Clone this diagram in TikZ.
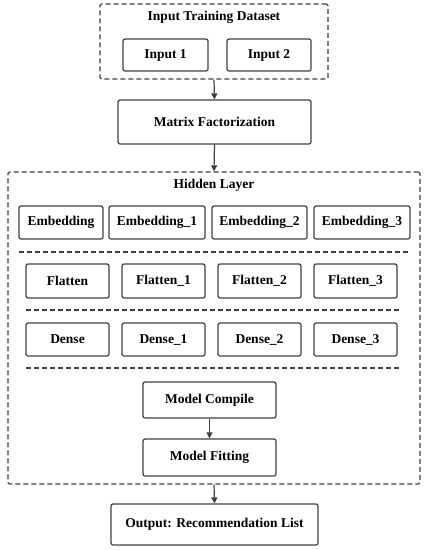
\documentclass[tikz,border=0pt]{standalone}
\usepackage{fontspec}
\setmainfont{Liberation Serif}
\usetikzlibrary{arrows.meta}
\definecolor{lc}{HTML}{404040}
\tikzset{
  box/.style={draw=lc, rounded corners=2pt, line width=1.2pt, font=\bfseries\fontsize{13.5}{16}\selectfont, inner sep=0pt, align=center},
  grp/.style={draw=lc, rounded corners=1.5pt, dash pattern=on 5pt off 3pt, line width=1.2pt, inner sep=0pt},
  sep/.style={draw=lc, dash pattern=on 5pt off 3pt, line width=1.2pt},
  ttl/.style={font=\bfseries\fontsize{13.5}{16}\selectfont, inner sep=0pt},
  arr/.style={draw=lc, line width=1.2pt, -{Triangle[length=6pt,width=6pt]}}
}
\begin{document}
\begin{tikzpicture}[x=1pt,y=-1pt]
\useasboundingbox (0,0) rectangle (429,550);
% input group
\node[grp, minimum width=228pt, minimum height=75pt] (ids) at (214,41.5) {};
\node[ttl] (idst) at (214,17) {Input Training Dataset};
\node[box, minimum width=85pt, minimum height=32pt] (in1) at (165.5,55) {Input 1};
\node[box, minimum width=84pt, minimum height=32pt] (in2) at (269,55) {Input 2};
% matrix factorization
\node[box, minimum width=193pt, minimum height=44pt] (mf) at (214.5,122) {Matrix Factorization};
% hidden layer
\node[grp, minimum width=412pt, minimum height=312pt] (hl) at (214,328) {};
\node[ttl] (hlt) at (214,185) {Hidden Layer};
\node[box, minimum width=84pt, minimum height=33pt] (e0) at (61,222.5) {Embedding};
\node[box, minimum width=96pt, minimum height=33pt] (e1) at (157,222.5) {Embedding\_1};
\node[box, minimum width=95pt, minimum height=33pt] (e2) at (259.5,222.5) {Embedding\_2};
\node[box, minimum width=96pt, minimum height=33pt] (e3) at (362,222.5) {Embedding\_3};
\draw[sep] (19,252) -- (410,252);
\node[box, minimum width=83pt, minimum height=34pt] (f0) at (67.5,281) {Flatten};
\node[box, minimum width=83pt, minimum height=34pt] (f1) at (163.5,281) {Flatten\_1};
\node[box, minimum width=83pt, minimum height=34pt] (f2) at (259.5,281) {Flatten\_2};
\node[box, minimum width=83pt, minimum height=34pt] (f3) at (355.5,281) {Flatten\_3};
\draw[sep] (26,310) -- (400,310);
\node[box, minimum width=83pt, minimum height=33pt] (d0) at (67.5,339.5) {Dense};
\node[box, minimum width=83pt, minimum height=33pt] (d1) at (163.5,339.5) {Dense\_1};
\node[box, minimum width=83pt, minimum height=33pt] (d2) at (259.5,339.5) {Dense\_2};
\node[box, minimum width=83pt, minimum height=33pt] (d3) at (355.5,339.5) {Dense\_3};
\draw[sep] (26,368) -- (400,368);
\node[box, minimum width=133pt, minimum height=36pt] (mc) at (209.5,400) {Model Compile};
\node[box, minimum width=133pt, minimum height=37pt] (mfit) at (209.5,457.5) {Model Fitting};
% output
\node[box, minimum width=207pt, minimum height=41pt] (out) at (214.5,524.5) {Output: Recommendation List};
% arrows
\draw[arr] (ids.south) -- (mf.north);
\draw[arr] (mf.south) -- (hl.north);
\draw[arr] (mc.south) -- (mfit.north);
\draw[arr] (hl.south) -- (out.north);
\end{tikzpicture}
\end{document}
